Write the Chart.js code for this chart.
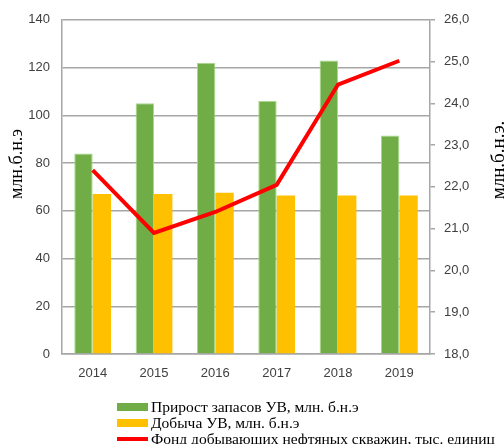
<!DOCTYPE html>
<html>
<head>
<meta charset="utf-8">
<script src="https://cdn.jsdelivr.net/npm/chart.js@4"></script>
<style>
  body { margin: 0; background: #fff; }
  #wrap { position: relative; width: 504px; height: 444px; overflow: hidden; }
  #legend { position: absolute; left: 117px; top: 399px; font: 15.5px "Liberation Serif", serif; color: #000; }
  .lg-row { display: flex; align-items: center; height: 16px; white-space: nowrap; }
  .lg-sw { width: 31px; margin-right: 3px; }
</style>
</head>
<body>
<div id="wrap">
  <canvas id="c" width="504" height="444"></canvas>
  <div id="legend"></div>
</div>
<script>
// ═════ DATA ═════
const years = ['2014', '2015', '2016', '2017', '2018', '2019'];
const reserveGrowth = [84, 105, 122, 106, 123, 91.5];     // Прирост запасов УВ
const production = [67, 67, 67.5, 66.4, 66.4, 66.4];       // Добыча УВ
const wellStock = [22.4, 20.9, 21.4, 22.05, 24.45, 25.02];  // Фонд скважин
const seriesLabels = [
  'Прирост запасов УВ, млн. б.н.э',
  'Добыча УВ, млн. б.н.э',
  'Фонд добывающих нефтяных скважин, тыс. единиц'
];
const leftTitle = 'млн.б.н.э';
const rightTitle = 'млн.б.н.э.';

const GRID = '#a6a6a6', TXT = '#404040';

// axis titles drawn beside the plot area
const axisTitles = {
  id: 'axisTitles',
  afterDraw(chart) {
    const { ctx } = chart;
    ctx.save();
    ctx.fillStyle = '#000';
    ctx.textAlign = 'center';
    ctx.textBaseline = 'middle';
    [[17, 164, 18, leftTitle], [499, 160, 19, rightTitle]].forEach(([x, y, sz, t]) => {
      ctx.save();
      ctx.font = sz + 'px "Liberation Serif", serif';
      ctx.translate(x, y);
      ctx.rotate(-Math.PI / 2);
      ctx.fillText(t, 0, 0);
      ctx.restore();
    });
    ctx.restore();
  }
};

const chart = new Chart(document.getElementById('c'), {
  data: {
    labels: years,
    datasets: [
      { type: 'line', label: seriesLabels[2], data: wellStock, yAxisID: 'y2', borderColor: '#ff0000', borderWidth: 4, pointRadius: 0, tension: 0, order: 0 },
      { type: 'bar', label: seriesLabels[0], data: reserveGrowth, yAxisID: 'y', backgroundColor: '#70ad47', borderColor: '#a9d98a', borderWidth: 1, categoryPercentage: 0.6, barPercentage: 1, order: 1 },
      { type: 'bar', label: seriesLabels[1], data: production, yAxisID: 'y', backgroundColor: '#ffc000', borderWidth: 0, categoryPercentage: 0.6, barPercentage: 1, order: 1 }
    ]
  },
  options: {
    responsive: false, animation: false,
    layout: { padding: { top: 18, left: 0, right: 0, bottom: 0 } },
    plugins: { legend: { display: false }, tooltip: { enabled: false } },
    scales: {
      x: {
        grid: { display: false, drawTicks: false },
        border: { color: GRID, width: 1.5 },
        ticks: { color: TXT, font: { family: '"Liberation Sans", Arial, sans-serif', size: 13 }, padding: 12, maxRotation: 0 },
        afterFit: s => { s.height = 90; }
      },
      y: {
        position: 'left', min: 0, max: 140,
        grid: { color: GRID, lineWidth: 1.5, drawTicks: false },
        border: { color: GRID, width: 1.5 },
        ticks: { stepSize: 20, color: TXT, font: { family: '"Liberation Sans", Arial, sans-serif', size: 13 }, padding: 12 },
        afterFit: s => { s.width = 62; }
      },
      y2: {
        position: 'right', min: 18, max: 26,
        grid: { drawOnChartArea: false, color: GRID, lineWidth: 1.5, tickLength: 5 },
        border: { color: GRID, width: 1.5 },
        ticks: { stepSize: 1, color: TXT, font: { family: '"Liberation Sans", Arial, sans-serif', size: 13 }, padding: 9,
          callback: v => v.toFixed(1).replace('.', ',') },
        afterFit: s => { s.width = 74; }
      }
    }
  },
  plugins: [axisTitles]
});

// legend, stacked vertically like the original
const order = [1, 2, 0];
document.getElementById('legend').innerHTML = order.map(i => {
  const d = chart.data.datasets[i];
  const sw = d.type === 'line'
    ? `<div class="lg-sw" style="height:4px;background:${d.borderColor}"></div>`
    : `<div class="lg-sw" style="height:8px;background:${d.backgroundColor}"></div>`;
  return `<div class="lg-row">${sw}<span>${d.label}</span></div>`;
}).join('');
</script>
</body>
</html>
